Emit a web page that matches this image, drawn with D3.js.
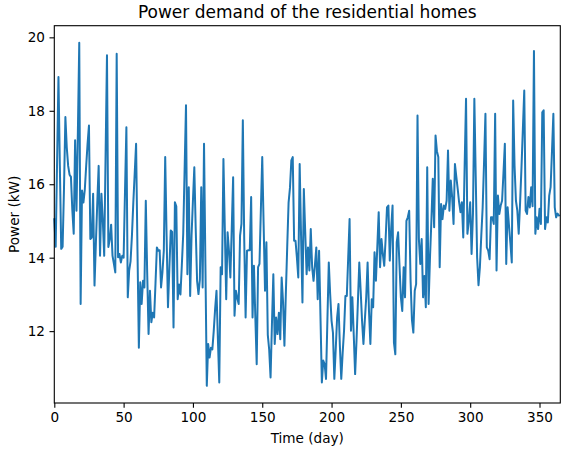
<!DOCTYPE html>
<html>
<head>
<meta charset="utf-8">
<title>Power demand of the residential homes</title>
<script src="https://d3js.org/d3.v7.min.js"></script>
<style>
  body { margin: 0; background: #fff; }
  svg text { font-family: "DejaVu Sans", sans-serif; fill: #000; }
</style>
</head>
<body>
<svg id="chart" width="561" height="449"></svg>
<script>
// daily power demand (kW), day 0 .. 364
const power = [
  15.05, 14.3, 16.6, 18.92, 16.5, 14.24, 14.3, 15.9, 17.83, 17.0,
  16.5, 16.26, 16.2, 15.3, 14.65, 17.2, 15.28, 17.4, 19.85, 12.74,
  15.83, 15.5, 15.85, 16.5, 17.1, 17.6, 14.51, 14.55, 15.74, 13.24,
  14.4, 15.5, 16.5, 14.05, 15.74, 15.0, 14.05, 16.8, 19.51, 14.29,
  14.5, 14.9, 14.05, 13.83, 13.6, 19.55, 14.01, 14.1, 13.87, 14.05,
  14.0, 15.8, 17.55, 12.92, 13.65, 13.9, 14.6, 15.5, 16.3, 17.1,
  14.2, 11.55, 13.33, 12.74, 13.37, 13.19, 15.55, 13.6, 11.92, 13.1,
  12.24, 12.5, 12.37, 13.3, 14.28, 14.19, 14.2, 13.19, 13.6, 14.19,
  16.74, 14.6, 12.65, 13.7, 14.74, 14.7, 12.1, 15.51, 15.4, 12.87,
  13.27, 13.0, 13.8, 14.65, 16.4, 18.15, 13.55, 15.92, 12.96, 14.6,
  15.55, 16.46, 14.8, 13.37, 13.01, 13.4, 15.92, 13.19, 17.1, 13.8,
  10.51, 11.65, 11.28, 11.55, 11.5, 12.0, 12.6, 13.1, 11.8, 10.6,
  13.74, 13.55, 16.69, 14.8, 12.87, 14.69, 14.19, 13.46, 14.8, 16.19,
  12.42, 13.1, 12.9, 12.74, 14.6, 14.92, 17.74, 14.5, 12.37, 14.19,
  14.2, 14.2, 15.65, 12.37, 13.78, 12.4, 11.1, 13.74, 13.83, 15.3,
  16.74, 14.9, 13.1, 14.42, 11.9, 11.5, 10.74, 12.2, 13.55, 11.65,
  12.37, 11.92, 12.5, 11.78, 13.46, 12.8, 11.6, 13.0, 14.28, 15.5,
  15.9, 16.65, 16.74, 14.46, 14.46, 14.0, 13.46, 16.55, 14.6, 12.78,
  15.87, 14.7, 13.55, 14.28, 13.65, 14.78, 13.74, 13.37, 13.8, 14.28,
  12.87, 14.19, 12.4, 10.6, 11.2, 11.1, 10.7, 12.3, 13.87, 13.0,
  12.28, 11.96, 10.7, 11.5, 12.37, 12.74, 11.6, 10.7, 11.4, 12.01,
  12.96, 12.96, 14.0, 15.05, 12.01, 12.92, 11.9, 10.83, 11.74, 12.8,
  13.87, 13.1, 12.28, 11.65, 12.3, 12.92, 13.87, 12.55, 11.65, 12.87,
  12.65, 14.15, 13.37, 14.3, 15.24, 13.74, 14.51, 14.1, 13.78, 14.51,
  15.37, 15.42, 13.92, 14.8, 15.42, 11.69, 11.37, 14.42, 14.69, 13.8,
  12.92, 12.55, 13.74, 12.92, 15.0, 15.1, 15.28, 13.37, 12.3, 11.96,
  13.1, 13.28, 17.87, 14.5, 13.83, 14.51, 12.92, 13.5, 12.65, 16.46,
  12.74, 14.0, 15.0, 16.15, 14.83, 17.33, 16.9, 16.74, 13.74, 15.46,
  15.05, 15.42, 15.33, 15.55, 16.92, 15.28, 16.1, 15.65, 14.92, 16.55,
  16.2, 15.87, 15.51, 15.24, 15.51, 14.55, 16.5, 18.33, 14.65, 15.0,
  15.51, 14.1, 15.2, 18.33, 16.2, 14.01, 13.25, 13.74, 14.6, 15.37,
  16.6, 17.92, 14.28, 14.19, 13.96, 15.1, 15.1, 14.92, 17.92, 13.65,
  15.69, 15.19, 15.42, 15.55, 16.3, 17.1, 13.83, 15.37, 14.87, 14.4,
  13.87, 18.28, 16.5, 15.55, 15.28, 14.65, 15.5, 16.46, 17.5, 18.55,
  15.28, 15.19, 15.65, 15.37, 15.92, 15.4, 19.63, 14.65, 15.1, 14.78,
  15.33, 14.92, 17.96, 18.01, 14.78, 15.1, 14.96, 15.69, 15.92, 16.9,
  17.92, 15.37, 15.1, 15.2, 15.15
];
const days = power.map((v, i) => i);
const xTicks = [0, 50, 100, 150, 200, 250, 300, 350];
const yTicks = [12, 14, 16, 18, 20];

const svg = d3.select('#chart');
const margin = {top: 25.7, right: 0.7, bottom: 46, left: 54.3};
const width = +svg.attr('width');
const height = +svg.attr('height');
const innerwidth = width - margin.left - margin.right;
const innerheight = height - margin.top - margin.bottom;

// matplotlib style 5% margin on the y range
const ymin = d3.min(power), ymax = d3.max(power);
const pad = (ymax - ymin) * 0.05;

const xscale = d3.scaleLinear().domain([0, 365]).range([0, innerwidth]);
const yscale = d3.scaleLinear().domain([ymin - pad, ymax + pad]).range([innerheight, 0]);

svg.append('rect').attr('width', width).attr('height', height).attr('fill', '#fff');

const g = svg.append('g')
  .attr('transform', `translate(${margin.left},${margin.top})`);

// the series
const line = d3.line()
  .x((d, i) => xscale(days[i]))
  .y(d => yscale(d));

g.append('path')
  .datum(power)
  .attr('d', line)
  .attr('fill', 'none')
  .attr('stroke', '#1f77b4')
  .attr('stroke-width', 2)
  .attr('stroke-linejoin', 'round')
  .attr('stroke-linecap', 'square');

// axes
const xaxis = d3.axisBottom(xscale).tickValues(xTicks).tickSize(4.8).tickPadding(4.5);
const yaxis = d3.axisLeft(yscale).tickValues(yTicks).tickSize(4.8).tickPadding(4.5);

const gx = g.append('g').attr('transform', `translate(0,${innerheight})`).call(xaxis);
const gy = g.append('g').call(yaxis);

[gx, gy].forEach(a => {
  a.select('.domain').remove();
  a.selectAll('.tick line').attr('stroke', '#000').attr('stroke-width', 1.1);
  a.selectAll('.tick text')
    .style('font-family', '"DejaVu Sans", sans-serif')
    .style('font-size', '13.6px')
    .attr('fill', '#222');
});

// frame
g.append('rect')
  .attr('width', innerwidth)
  .attr('height', innerheight)
  .attr('fill', 'none')
  .attr('stroke', '#000')
  .attr('stroke-width', 1.1);

// title and labels
svg.append('text')
  .attr('x', margin.left + innerwidth / 2)
  .attr('y', 18)
  .attr('text-anchor', 'middle')
  .style('font-size', '17px')
  .text('Power demand of the residential homes');

svg.append('text')
  .attr('x', margin.left + innerwidth / 2)
  .attr('y', 443)
  .attr('text-anchor', 'middle')
  .style('font-size', '13.6px')
  .text('Time (day)');

svg.append('text')
  .attr('transform', `translate(18.5,${margin.top + innerheight / 2}) rotate(-90)`)
  .attr('text-anchor', 'middle')
  .style('font-size', '13.6px')
  .text('Power (kW)');
</script>
</body>
</html>
